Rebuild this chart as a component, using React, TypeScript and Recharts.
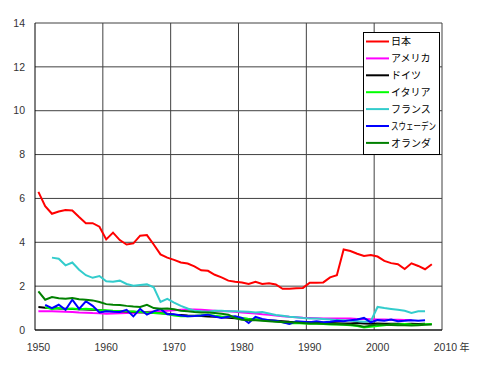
import { LineChart, Line, XAxis, YAxis, CartesianGrid, ReferenceLine, Legend } from 'recharts'

const years = Array.from({ length: 59 }, (_, i) => 1950 + i)

// values, one per year 1950..2008 (null = no data)
const japan = [
  6.3, 5.65, 5.3, 5.4, 5.47, 5.45, 5.15, 4.87, 4.87, 4.71,
  4.13, 4.44, 4.1, 3.9, 3.95, 4.3, 4.33, 3.9, 3.45, 3.3,
  3.2, 3.08, 3.03, 2.9, 2.72, 2.7, 2.52, 2.4, 2.25, 2.2,
  2.17, 2.1, 2.2, 2.1, 2.13, 2.08, 1.88, 1.88, 1.9, 1.92,
  2.16, 2.16, 2.17, 2.4, 2.5, 3.67, 3.6, 3.48, 3.38, 3.42,
  3.35, 3.15, 3.05, 3.0, 2.78, 3.04, 2.92, 2.77, 3.0,
]
const america = [
  0.85, 0.86, 0.85, 0.84, 0.83, 0.82, 0.8, 0.79, 0.77, 0.76,
  0.74, 0.75, 0.76, 0.77, 0.78, 0.8, 0.82, 0.84, 0.86, 0.88,
  0.9, 0.92, 0.93, 0.94, 0.92, 0.9, 0.88, 0.86, 0.85, 0.83,
  0.8, 0.78, 0.75, 0.72, 0.7, 0.66, 0.63, 0.6, 0.58, 0.56,
  0.55, 0.54, 0.53, 0.53, 0.52, 0.52, 0.52, 0.5, 0.5, 0.49,
  0.48, 0.48, 0.47, 0.47, 0.46, 0.46, null, null, null,
]
const germany = [
  1.05, 1.02, 1.0, 0.98, 0.97, 0.96, 0.95, 0.94, 0.92, 0.9,
  0.88, 0.87, 0.86, 0.84, 0.83, 0.81, 0.8, 0.78, 0.76, 0.74,
  0.7, 0.68, 0.66, 0.65, 0.64, 0.62, 0.6, 0.58, 0.56, 0.54,
  0.52, 0.5, 0.48, 0.46, 0.44, 0.42, 0.4, 0.38, 0.37, 0.36,
  0.35, 0.34, 0.33, 0.32, 0.31, 0.3, 0.3, 0.32, 0.3, 0.28,
  0.3, 0.29, 0.28, 0.28, 0.27, 0.28, 0.27, 0.28, null,
]
const italy = [
  null, 1.05, 0.95, 1.0, 0.95, 0.98, 0.95, 0.97, 0.95, 0.9,
  0.9, 0.88, 0.87, 0.85, 0.84, 0.82, 0.8, 0.78, 0.76, 0.73,
  0.66, 0.63, 0.63, 0.64, 0.67, 0.7, 0.65, 0.62, 0.6, 0.58,
  0.55, 0.5, 0.48, 0.45, 0.42, 0.4, 0.35, 0.3, 0.32, 0.3,
  0.28, 0.28, 0.27, 0.25, 0.25, 0.24, 0.22, 0.18, 0.12, 0.15,
  0.18, 0.22, 0.25, 0.25, 0.27, 0.25, 0.24, 0.26, 0.27,
]
const france = [
  null, null, 3.3, 3.25, 2.95, 3.08, 2.75, 2.5, 2.38, 2.46,
  2.22, 2.2, 2.25, 2.1, 2.02, 2.05, 2.08, 1.95, 1.28, 1.42,
  1.25, 1.1, 0.98, 0.88, 0.85, 0.83, 0.88, 0.88, 0.86, 0.85,
  0.84, 0.83, 0.8, 0.82, 0.75, 0.68, 0.65, 0.6, 0.58, 0.55,
  0.53, 0.52, 0.5, 0.48, 0.46, 0.44, 0.42, 0.4, 0.38, 0.4,
  1.05, 1.0, 0.96, 0.92, 0.88, 0.78, 0.85, 0.86, null,
]
const sweden = [
  null, 1.15, 1.0, 1.15, 0.92, 1.38, 0.96, 1.31, 1.1, 0.8,
  0.85, 0.83, 0.82, 0.92, 0.62, 0.96, 0.7, 0.85, 0.96, 0.72,
  0.72, 0.66, 0.63, 0.64, 0.66, 0.7, 0.62, 0.55, 0.6, 0.63,
  0.55, 0.32, 0.6, 0.5, 0.45, 0.42, 0.35, 0.28, 0.4, 0.38,
  0.35, 0.4, 0.35, 0.38, 0.42, 0.4, 0.45, 0.48, 0.55, 0.35,
  0.45, 0.42, 0.48, 0.4, 0.42, 0.45, 0.42, 0.44, null,
]
const netherlands = [
  1.76, 1.38, 1.5, 1.45, 1.42, 1.46, 1.4, 1.38, 1.35, 1.28,
  1.18, 1.15, 1.14, 1.1, 1.07, 1.05, 1.15, 1.0, 0.97, 0.98,
  0.95, 0.88, 0.85, 0.82, 0.8, 0.8, 0.78, 0.74, 0.7, 0.55,
  0.47, 0.45, 0.44, 0.42, 0.4, 0.38, 0.36, 0.35, 0.34, 0.32,
  0.3, 0.3, 0.28, 0.27, 0.26, 0.25, 0.24, 0.2, 0.15, 0.2,
  0.25, 0.24, 0.23, 0.22, 0.22, 0.2, 0.22, 0.24, 0.25,
]

const yTicks = [0, 2, 4, 6, 8, 10, 12, 14]
const xTicks = [1950, 1960, 1970, 1980, 1990, 2000, 2010]
const decadeLines = [1959.5, 1969.5, 1979.5, 1989.5, 1999.5, 2009.5]

const series = [
  { key: 'japan', name: '日本', color: '#FF0000', values: japan },
  { key: 'america', name: 'アメリカ', color: '#FF00FF', values: america },
  { key: 'germany', name: 'ドイツ', color: '#000000', values: germany },
  { key: 'italy', name: 'イタリア', color: '#00FF00', values: italy },
  { key: 'france', name: 'フランス', color: '#33CCCC', values: france },
  { key: 'sweden', name: 'スウェーデン', color: '#0000FF', values: sweden },
  { key: 'netherlands', name: 'オランダ', color: '#008000', values: netherlands },
]

const data = years.map((year, i) => {
  const row: Record<string, number | null> = { year }
  series.forEach(s => { row[s.key] = s.values[i] })
  return row
})

const tickFont = { fontFamily: '"Liberation Sans", Arial, sans-serif', fontSize: 10.5, fill: '#333' }
const jpFont = '"Noto Sans CJK JP", sans-serif'

function XTick(props: any) {
  const { x, y, payload } = props
  return (
    <g>
      <text x={x} y={y} dy="0.71em" textAnchor="middle" {...tickFont}>{payload.value}</text>
      {payload.value === 2010 && (
        <text x={x + 14} y={y} dy="0.71em" textAnchor="start" {...tickFont}
          fontFamily={jpFont} fontSize={10}>年</text>
      )}
    </g>
  )
}

// legend drawn in series order (recharts would sort the payload)
function LegendBox() {
  return (
    <svg width={77} height={123} style={{ display: 'block' }}>
      <rect x={0.5} y={0.5} width={76} height={122} fill="#fff" stroke="#000" />
      {series.map((s, i) => {
        const cy = 9.5 + i * 16.9
        // long names are squeezed like the narrow kana of the original
        const squeeze = s.name.length > 4 ? 0.75 : 1
        return (
          <g key={s.key}>
            <line x1={3} x2={26} y1={cy} y2={cy} stroke={s.color} strokeWidth={2} />
            <text x={28 / squeeze} y={cy} dy="0.36em" fontSize={10} fontFamily={jpFont} fill="#000"
              transform={squeeze !== 1 ? `scale(${squeeze},1)` : undefined}>
              {s.name}
            </text>
          </g>
        )
      })}
    </svg>
  )
}

export default function App() {
  return (
    <div style={{ position: 'absolute', left: 0, top: 0, width: 480, height: 369, background: '#fff' }}>
      <LineChart width={480} height={369} data={data} margin={{ top: 23, right: 38, bottom: 9, left: 0 }}>
        <CartesianGrid vertical={false} stroke="#404040" />
        {decadeLines.map(d => (
          <ReferenceLine key={d} x={d} stroke="#404040" />
        ))}
        <XAxis dataKey="year" type="number" domain={[1949.5, 2009.5]} ticks={xTicks} interval={0}
          tickLine={false} axisLine={{ stroke: '#000' }} height={30} tickMargin={8} tick={<XTick />} />
        <YAxis domain={[0, 14]} ticks={yTicks} interval={0} width={35} tickLine={false}
          axisLine={{ stroke: '#000' }} tickMargin={4} tick={tickFont} />
        <Legend content={<LegendBox />} layout="horizontal" verticalAlign="middle" align="center"
          wrapperStyle={{ position: 'absolute', left: 363, top: 32, width: 77, height: 123 }} />
        {series.map(s => (
          <Line key={s.key} dataKey={s.key} name={s.name} type="linear" stroke={s.color}
            strokeWidth={2} dot={false} isAnimationActive={false} />
        ))}
      </LineChart>
    </div>
  )
}
